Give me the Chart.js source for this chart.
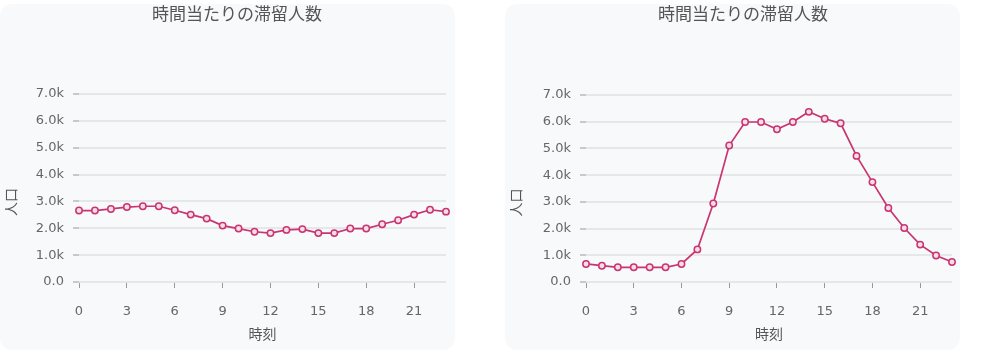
<!DOCTYPE html>
<html><head><meta charset="utf-8">
<script src="https://cdn.jsdelivr.net/npm/chart.js@4"></script>
<style>
html,body{margin:0;padding:0;background:#fff;width:987px;height:359px;overflow:hidden;}
.panel{position:absolute;top:4px;height:346px;background:#f8f9fa;border-radius:12px;}
.cv{position:absolute;top:0;}
</style></head><body>
<div class="panel" style="left:0;width:455px"></div>
<div class="panel" style="left:505px;width:455px"></div>
<div class="cv" style="left:0;width:474px;height:350px"><canvas id="c1" width="474" height="350"></canvas></div>
<div class="cv" style="left:505px;width:476px;height:350px"><canvas id="c2" width="476" height="350"></canvas></div>
<script>
const hours = [0,1,2,3,4,5,6,7,8,9,10,11,12,13,14,15,16,17,18,19,20,21,22,23];
const seriesLeft = [2660,2660,2720,2790,2820,2820,2670,2510,2360,2100,1990,1870,1820,1940,1970,1820,1820,1990,1990,2150,2300,2510,2690,2620];
const seriesRight = [675,610,550,550,550,550,675,1220,2940,5110,5990,5990,5720,5990,6370,6110,5940,4720,3740,2770,2020,1400,990,750];
const chartTitle = '時間当たりの滞留人数';
const xTitle = '時刻';
const yTitle = '人口';
const yMax = 7000, yStep = 1000, xStep = 3;

const FONT = "'DejaVu Sans','Noto Sans CJK JP',sans-serif";
const LINE = '#c93472';

function make(id, values, yWidth, rightWidth, titleBottom){
  new Chart(document.getElementById(id), {
    type: 'line',
    data: { datasets: [{
      data: hours.map((h,i)=>({x:h, y:values[i]})),
      borderColor: LINE, borderWidth: 1.7,
      pointRadius: 3.2, pointBorderWidth: 1.5,
      pointBackgroundColor: '#f7dde8', pointBorderColor: LINE,
      tension: 0, clip: false
    }]},
    options: {
      responsive: false, animation: false,
      layout: { padding: 0 },
      plugins: {
        legend: { display: false }, tooltip: { enabled: false },
        title: { display: true, text: chartTitle, color: '#555',
          font: { family: FONT, size: 17, weight: 'normal' },
          padding: { top: 5, bottom: titleBottom } }
      },
      scales: {
        x: { type: 'linear', min: 0, max: 23,
          afterBuildTicks: s => { s.ticks = s.ticks.filter(t => t.value % xStep === 0); },
          ticks: { stepSize: xStep, color: '#666', padding: 16, font:{family:FONT,size:13}, autoSkip:false },
          grid: { drawOnChartArea: false, drawTicks: true, tickLength: 6, tickColor: '#999', tickWidth: 1 },
          border: { display: false },
          title: { display: true, text: xTitle, color: '#555', font:{family:FONT,size:14}, padding:{top:4,bottom:6} },
          afterFit: s => { s.height = 68; }
        },
        y: { min: 0, max: yMax,
          ticks: { stepSize: yStep, color: '#666', padding: 9, font:{family:FONT,size:13},
            callback: v => v === 0 ? '0.0' : (v/1000).toFixed(1) + 'k' },
          grid: { color: '#e6e7e8', lineWidth: 2, tickLength: 6, tickColor: '#999', tickWidth: 1 },
          border: { display: false },
          title: { display: true, text: yTitle + '\u3000\u3000', color: '#555', font:{family:FONT,size:14}, padding:{top:4,bottom:4} },
          afterFit: s => { s.width = yWidth; }
        },
        yRight: { position: 'right', display: true, min: 0, max: yMax,
          ticks: { display: false }, grid: { display: false }, border: { display: false },
          afterFit: s => { s.width = rightWidth; }
        }
      }
    }
  });
}
make('c1', seriesLeft, 79, 28, 68.6);
make('c2', seriesRight, 81, 29, 69.6);
</script>
</body></html>
